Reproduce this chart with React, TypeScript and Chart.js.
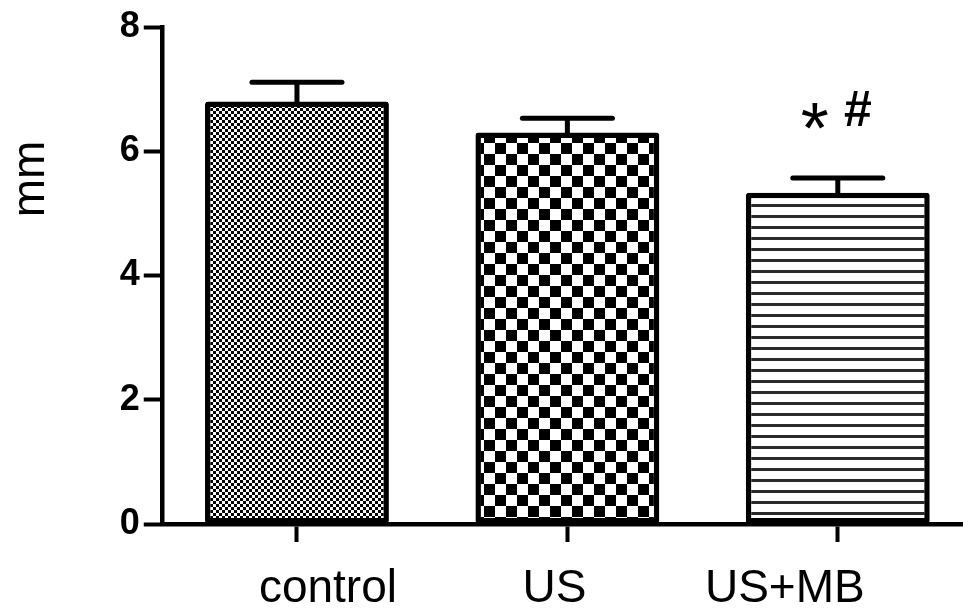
import React, { useEffect, useRef } from "react";
import { Chart, registerables } from "chart.js";

Chart.register(...registerables);

// ---- data ----
const categories = ["control", "US", "US+MB"];
const means = [6.8, 6.3, 5.33];
const sems = [0.31, 0.23, 0.24];
const yTicks = [0, 2, 4, 6, 8];
const yTitle = "mm";
const starMarks = ["", "", "*"];
const hashMarks = ["", "", "#"];

// ---- style / layout constants ----
const FONT = '"Liberation Sans", Arial, Helvetica, sans-serif';
const LABEL_DX = [31, -13, -53];
const CANVAS_W = 973;
const CANVAS_H = 609;

function makePattern(
  ctx: CanvasRenderingContext2D,
  w: number,
  h: number,
  draw: (g: CanvasRenderingContext2D) => void
) {
  const c = document.createElement("canvas");
  c.width = w;
  c.height = h;
  const g = c.getContext("2d")!;
  g.fillStyle = "#fff";
  g.fillRect(0, 0, w, h);
  g.fillStyle = "#000";
  draw(g);
  return ctx.createPattern(c, "repeat")!;
}

const overlay = {
  id: "overlay",
  afterDatasetsDraw(chart: any) {
    const { ctx } = chart;
    const x = chart.scales.x;
    const y = chart.scales.y;
    ctx.save();
    ctx.strokeStyle = "#000";
    ctx.fillStyle = "#000";
    ctx.lineWidth = 5;
    means.forEach((m, i) => {
      const px = x.getPixelForValue(i);
      const yb = y.getPixelForValue(m);
      const yt = y.getPixelForValue(m + sems[i]);
      ctx.beginPath();
      ctx.lineCap = "butt";
      ctx.moveTo(px, yb + 2);
      ctx.lineTo(px, yt);
      ctx.stroke();
      ctx.beginPath();
      ctx.lineCap = "round";
      ctx.moveTo(px - 45, yt);
      ctx.lineTo(px + 45, yt);
      ctx.stroke();

      if (starMarks[i]) {
        ctx.font = `72px ${FONT}`;
        ctx.textAlign = "center";
        ctx.textBaseline = "alphabetic";
        ctx.fillText(starMarks[i], px - 23, yt - 25);
      }
      if (hashMarks[i]) {
        ctx.font = `bold 50px ${FONT}`;
        ctx.textAlign = "center";
        ctx.textBaseline = "alphabetic";
        ctx.fillText(hashMarks[i], px + 20, yt - 52);
      }
    });

    // category labels
    ctx.font = `46px ${FONT}`;
    ctx.textAlign = "center";
    ctx.textBaseline = "alphabetic";
    categories.forEach((c, i) => {
      const px = x.getPixelForValue(i);
      ctx.fillText(c, px + LABEL_DX[i], x.top + 78);
    });

    // y title
    ctx.save();
    ctx.translate(31, y.top + 152);
    ctx.rotate(-Math.PI / 2);
    ctx.font = `46px ${FONT}`;
    ctx.textAlign = "center";
    ctx.textBaseline = "middle";
    ctx.fillText(yTitle, 0, 0);
    ctx.restore();

    ctx.restore();
  },
};

export default function App() {
  const ref = useRef<HTMLCanvasElement | null>(null);

  useEffect(() => {
    const canvas = ref.current!;
    const ctx = canvas.getContext("2d")!;

    const fine = makePattern(ctx, 6, 6, (g) => {
      g.fillRect(0, 0, 3, 3);
      g.fillRect(3, 3, 3, 3);
    });
    const checker = makePattern(ctx, 22, 22, (g) => {
      g.fillRect(0, 0, 11, 11);
      g.fillRect(11, 11, 11, 11);
    });
    const lines = makePattern(ctx, 8, 11, (g) => {
      g.fillStyle = "#2a2a2a";
      g.fillRect(0, 6, 8, 3);
    });

    const chart = new Chart(ctx, {
      type: "bar",
      data: {
        labels: categories,
        datasets: [
          {
            data: means,
            backgroundColor: [fine, checker, lines],
            borderColor: "#000",
            borderWidth: 5.5,
            borderRadius: 3,
            borderSkipped: false,
            categoryPercentage: 1,
            barPercentage: 0.68,
          },
        ],
      },
      plugins: [overlay],
      options: {
        responsive: false,
        animation: false,
        layout: { padding: { top: 27, left: 0, right: 0, bottom: 0 } },
        plugins: {
          legend: { display: false },
          tooltip: { enabled: false },
          title: { display: false },
        },
        scales: {
          x: {
            type: "category",
            offset: true,
            grid: {
              offset: false,
              drawOnChartArea: false,
              drawTicks: true,
              tickLength: 18,
              tickWidth: 4,
              tickColor: "#000",
            },
            border: { display: true, color: "#000", width: 4.5 },
            ticks: { display: false },
            afterFit: (s: any) => {
              s.height = 85;
            },
          },
          y: {
            min: 0,
            max: 8,
            afterBuildTicks: (s: any) => {
              s.ticks = yTicks.map((v) => ({ value: v }));
            },
            afterFit: (s: any) => {
              s.width = 161.75;
            },
            grid: {
              drawOnChartArea: false,
              drawTicks: true,
              tickLength: 18,
              tickWidth: 4,
              tickColor: "#000",
            },
            border: { display: true, color: "#000", width: 4.5 },
            ticks: {
              color: "#000",
              padding: 4,
              font: { family: FONT, size: 36, weight: "bold" },
            },
          },
        },
      },
    });
    return () => chart.destroy();
  }, []);

  return (
    <div
      style={{
        position: "absolute",
        left: 0,
        top: 0,
        width: 963,
        height: 609,
        overflow: "hidden",
        background: "#fff",
      }}
    >
      <canvas
        ref={ref}
        width={CANVAS_W}
        height={CANVAS_H}
        style={{ display: "block", width: CANVAS_W, height: CANVAS_H }}
      />
    </div>
  );
}
